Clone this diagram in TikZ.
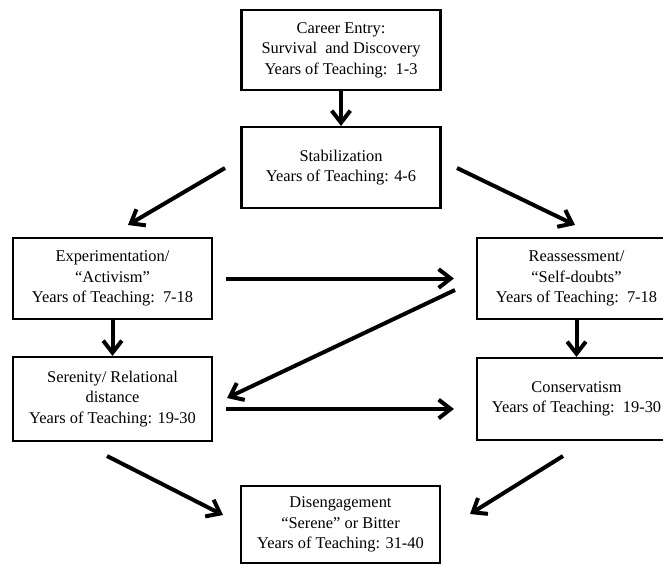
\documentclass[tikz,border=0pt]{standalone}
\usepackage{fontspec}
\setmainfont{Liberation Serif}
\usetikzlibrary{arrows.meta,calc}
\begin{document}
\begin{tikzpicture}[x=0.75pt,y=-0.75pt,
  box/.style={draw, line width=1.6pt, align=center, minimum width=149.25pt, inner sep=0pt,
    font=\fontsize{12.3}{15.4}\selectfont},
  arr/.style={line width=3pt, -{Straight Barb[length=9pt,width=14pt,line width=3pt]}}]
\useasboundingbox (0,0) rectangle (663,564);
\node[box, minimum height=60pt] (B1) at (341,50) {Career Entry:\\Survival\ \ and Discovery\\Years of Teaching:\ \ 1-3};
\node[box, minimum height=60.75pt] (B2) at (341,167.5) {Stabilization\\Years of Teaching: 4-6};
\node[box, minimum height=60.75pt] (B3) at (112.5,278.5) {Experimentation/\\“Activism”\\Years of Teaching:\ \ 7-18};
\node[box, minimum height=63pt] (B4) at (112.5,399) {Serenity/ Relational\\distance\\Years of Teaching: 19-30};
\node[box, minimum height=60.75pt] (B5) at (576.5,278.5) {Reassessment/\\“Self-doubts”\\Years of Teaching:\ \ 7-18};
\node[box, minimum height=61.5pt] (B6) at (576.5,399) {Conservatism\\Years of Teaching:\ \ 19-30};
\node[box, minimum height=57.75pt] (B7) at (340.5,524.5) {Disengagement\\“Serene” or Bitter\\Years of Teaching: 31-40};
\coordinate (s1) at (225,168); \coordinate (e1) at (128,225);
\coordinate (s2) at (457,168); \coordinate (e2) at (575,225);
\coordinate (s3) at (455,290); \coordinate (e3) at (227,398);
\coordinate (s4) at (107,456); \coordinate (e4) at (223,515);
\coordinate (s5) at (563,456); \coordinate (e5) at (470,514);
\draw[arr] (B1.south) -- (B2.north);
\draw[arr] (B3.south) -- (B4.north);
\draw[arr] (B5.south) -- (B6.north);
\draw[arr] ($(B3.east)+(13,0)$) -- ($(B5.west)+(-22,0)$);
\draw[arr] ($(B4.east)+(13,10)$) -- ($(B6.west)+(-22,10)$);
\draw[arr] (s1) -- (e1);
\draw[arr] (s2) -- (e2);
\draw[arr] (s3) -- (e3);
\draw[arr] (s4) -- (e4);
\draw[arr] (s5) -- (e5);
\end{tikzpicture}
\end{document}
